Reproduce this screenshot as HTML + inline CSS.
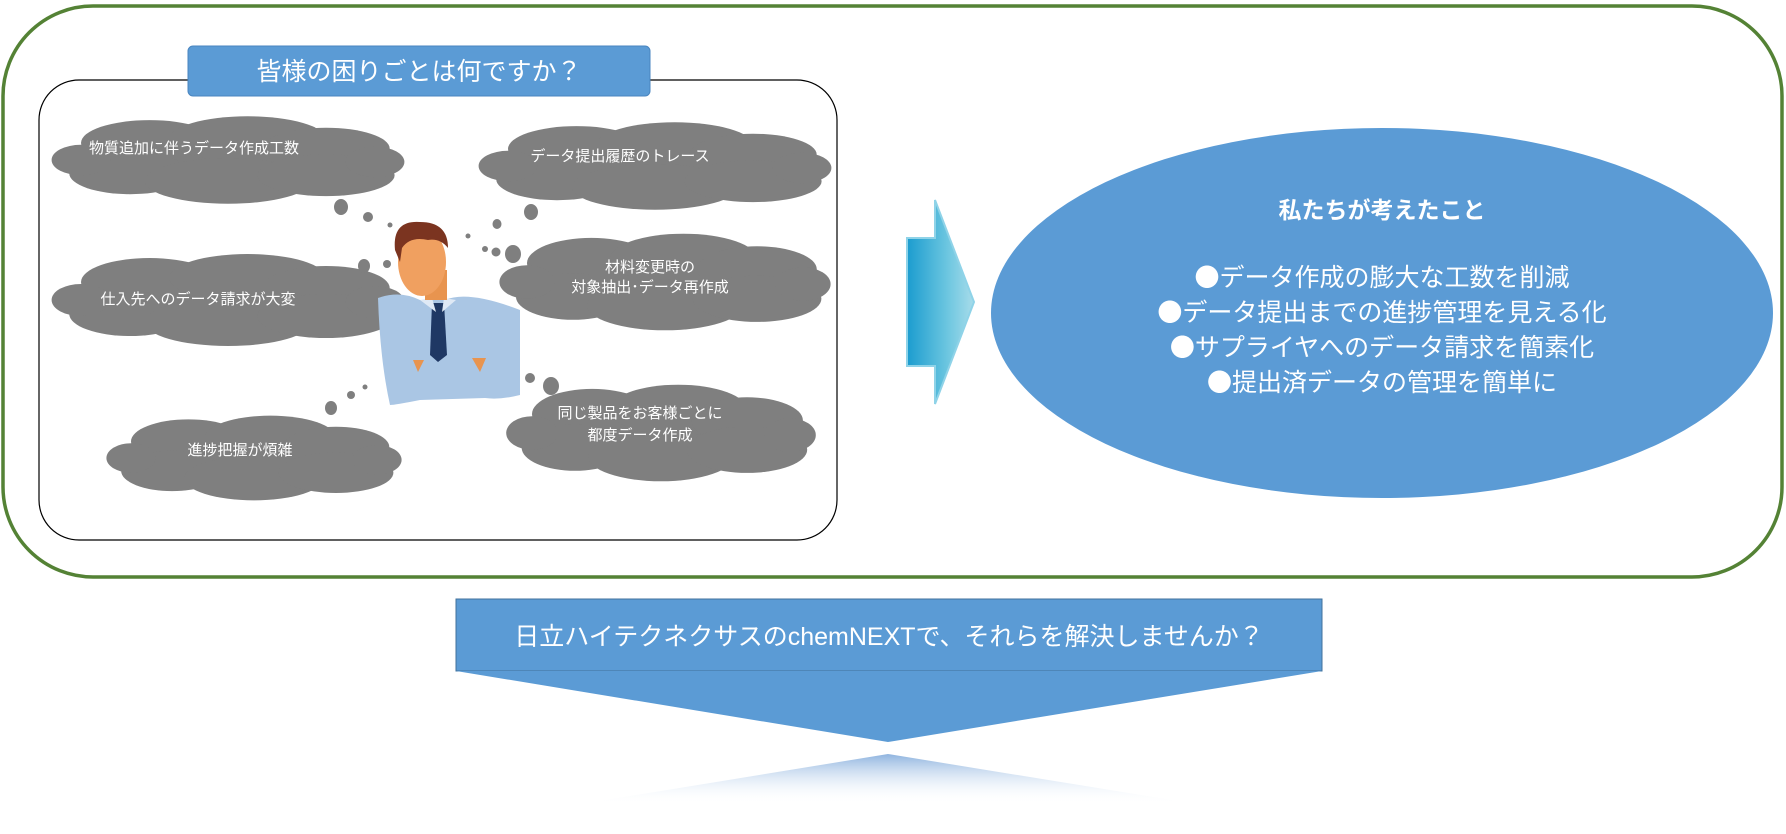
<!DOCTYPE html>
<html><head><meta charset="utf-8"><style>
html,body{margin:0;padding:0;background:#fff;}
svg{display:block;}
text{font-family:"Liberation Sans","Noto Sans CJK JP",sans-serif;}
.b{font-family:"Noto Sans CJK JP",sans-serif;}
</style></head><body>
<svg width="1786" height="834" viewBox="0 0 1786 834" xmlns="http://www.w3.org/2000/svg">
<defs>
<linearGradient id="arr" x1="0" x2="1" y1="0" y2="0">
<stop offset="0" stop-color="#1b9ccf"/><stop offset="0.6" stop-color="#6cc6e0"/><stop offset="1" stop-color="#a8dcea"/>
</linearGradient>
<linearGradient id="fade" x1="0" x2="0" y1="0" y2="1">
<stop offset="0" stop-color="#8fb4df"/><stop offset="1" stop-color="#ffffff" stop-opacity="0"/>
</linearGradient>
<g id="cloud">
<ellipse cx="0" cy="0" rx="140" ry="22"/>
<ellipse cx="-80" cy="-18" rx="70" ry="24"/>
<ellipse cx="20" cy="-22" rx="80" ry="24"/>
<ellipse cx="100" cy="-12" rx="65" ry="22"/>
<ellipse cx="-100" cy="14" rx="62" ry="22"/>
<ellipse cx="0" cy="22" rx="85" ry="24"/>
<ellipse cx="100" cy="16" rx="70" ry="22"/>
<ellipse cx="-150" cy="0" rx="30" ry="16"/>
<ellipse cx="150" cy="2" rx="30" ry="16"/>
</g>
</defs>
<rect x="3" y="6" width="1779" height="571" rx="90" ry="90" fill="#fff" stroke="#548235" stroke-width="3.5"/>
<rect x="39" y="80" width="798" height="460" rx="40" ry="40" fill="#fff" stroke="#000" stroke-width="1.2"/>
<rect x="188" y="46" width="462" height="50" rx="5" fill="#5b9bd5" stroke="#4a86c0"/>
<text x="419" y="80" font-size="25" fill="#fff" text-anchor="middle">皆様の困りごとは何ですか？</text>

<g fill="#7f7f7f">
<use href="#cloud" transform="translate(228,160) scale(0.98,0.95)"/>
<use href="#cloud" transform="translate(655,166) scale(0.98,0.95)"/>
<use href="#cloud" transform="translate(665,282) scale(0.92,1.05)"/>
<use href="#cloud" transform="translate(228,300) scale(0.98,1.0)"/>
<use href="#cloud" transform="translate(254,458) scale(0.82,0.92)"/>
<use href="#cloud" transform="translate(661,433) scale(0.86,1.05)"/>
<ellipse cx="341" cy="207" rx="7" ry="8"/><ellipse cx="368" cy="217" rx="5" ry="5"/><circle cx="390" cy="225" r="2.5"/>
<ellipse cx="531" cy="212" rx="7" ry="8"/><ellipse cx="497" cy="224" rx="4.5" ry="5"/><circle cx="468" cy="236" r="2.5"/>
<circle cx="485" cy="249" r="3"/><circle cx="496" cy="252" r="4.5"/><ellipse cx="513" cy="254" rx="8" ry="9"/>
<ellipse cx="364" cy="266" rx="6" ry="7"/><circle cx="387" cy="264" r="4"/>
<circle cx="516" cy="370" r="3"/><circle cx="530" cy="378" r="5"/><ellipse cx="551" cy="386" rx="8" ry="9"/>
<ellipse cx="331" cy="408" rx="6" ry="7"/><circle cx="351" cy="395" r="4"/><circle cx="365" cy="387" r="2.5"/>
</g>
<g font-size="15" fill="#fff" text-anchor="middle">
<text x="194" y="153">物質追加に伴うデータ作成工数</text>
<text x="620" y="161">データ提出履歴のトレース</text>
<text x="650" y="272">材料変更時の</text>
<text x="650" y="292">対象抽出･データ再作成</text>
<text x="198" y="304">仕入先へのデータ請求が大変</text>
<text x="240" y="455">進捗把握が煩雑</text>
<text x="640" y="418">同じ製品をお客様ごとに</text>
<text x="640" y="440">都度データ作成</text>
</g>

<g>
<path d="M378 298 Q400 290 420 300 L445 300 Q468 290 520 310 L520 395 Q500 400 485 398 L420 400 Q395 405 390 405 Q380 360 378 298Z" fill="#aac6e4"/>
<path d="M432 303 L444 303 L447 355 L438 362 L430 355Z" fill="#1f3864"/>
<path d="M420 300 L432 298 L436 312 Z M444 298 L456 300 L442 312Z" fill="#dfe9f5"/>
<rect x="425" y="270" width="22" height="30" fill="#e8944f"/>
<ellipse cx="422" cy="262" rx="24" ry="34" fill="#f0a060"/>
<path d="M395 250 Q392 220 420 222 Q448 222 448 248 Q440 238 428 240 Q410 236 402 248 L400 262Z" fill="#7b3420"/>
<path d="M413 360 L418 372 L424 360Z M472 358 L480 372 L486 358Z" fill="#e8944f"/>
</g>

<path d="M907 238 L935 238 L935 200 L974 302 L935 404 L935 366 L907 366Z" fill="url(#arr)" stroke="#8fd3e8" stroke-width="2"/>

<ellipse cx="1382" cy="313" rx="391" ry="185" fill="#5b9bd5"/>
<g fill="#fff" text-anchor="middle">
<text x="1382" y="218" font-size="23" font-weight="bold">私たちが考えたこと</text>
<text x="1382" y="286" font-size="25"><tspan class="b">●</tspan>データ作成の膨大な工数を削減</text>
<text x="1382" y="321" font-size="25"><tspan class="b">●</tspan>データ提出までの進捗管理を見える化</text>
<text x="1382" y="356" font-size="25"><tspan class="b">●</tspan>サプライヤへのデータ請求を簡素化</text>
<text x="1382" y="391" font-size="25"><tspan class="b">●</tspan>提出済データの管理を簡単に</text>
</g>

<rect x="456" y="599" width="866" height="72" fill="#5b9bd5" stroke="#41719c"/>
<text x="889" y="645" font-size="25" fill="#fff" text-anchor="middle">日立ハイテクネクサスのchemNEXTで、それらを解決しませんか？</text>
<path d="M456 671 L1322 671 L888 742Z" fill="#5b9bd5"/>
<path d="M888 754 L1196 804 L581 804Z" fill="url(#fade)"/>
</svg>
</body></html>
